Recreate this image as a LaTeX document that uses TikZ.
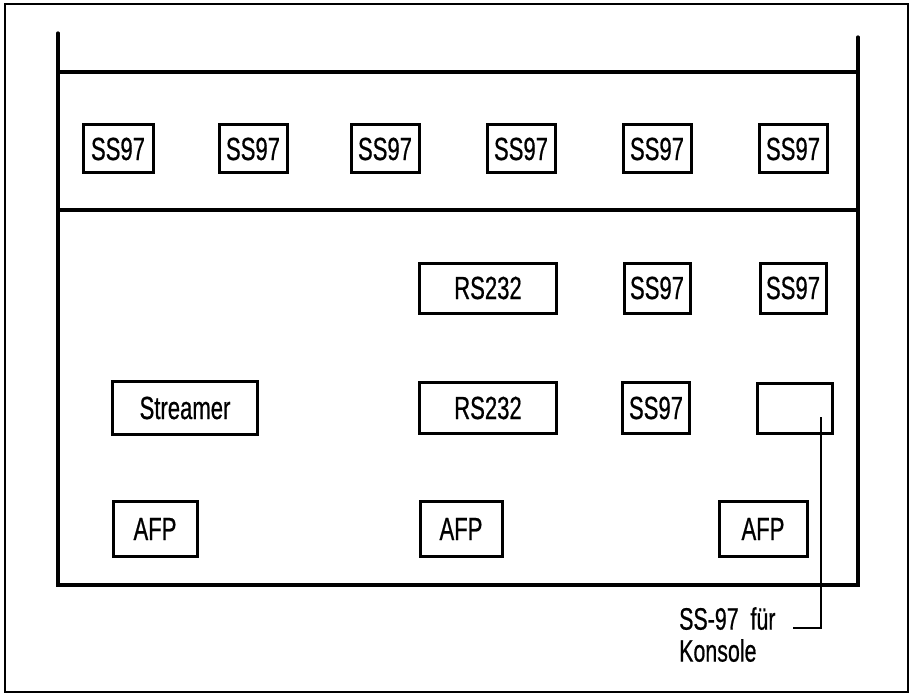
\documentclass[tikz,border=0pt]{standalone}
\usepackage{fontspec}
\setmainfont{Liberation Sans}[FakeStretch=0.69,FakeBold=0.6]
\begin{document}
\begin{tikzpicture}[
  x=1pt,y=-1pt,
  frame/.style={line width=1.3pt},
  rack/.style={line width=3.2pt,line cap=round},
  card/.style={draw,line width=3pt,inner sep=0pt,minimum height=48pt,
    font=\fontsize{32}{38}\selectfont},
  lead/.style={line width=1.3pt}]
  \useasboundingbox (0,0) rectangle (913,695);
  \draw[frame] (5,4) rectangle (908,692);
  \draw[rack] (58,33) -- (58,585) -- (858,585) -- (858,37);
  \draw[rack] (58,72) -- (858,72) (58,210) -- (858,210);
  \node[card,minimum width=70pt] (t1) at (118,149) {SS97};
  \node[card,minimum width=68pt] (t2) at (253,149) {SS97};
  \node[card,minimum width=68pt] (t3) at (385,149) {SS97};
  \node[card,minimum width=68pt] (t4) at (521,149) {SS97};
  \node[card,minimum width=68pt] (t5) at (657,149) {SS97};
  \node[card,minimum width=68pt] (t6) at (793,149) {SS97};
  \node[card,minimum width=137pt,minimum height=50pt] (rs1) at (488,288) {RS232};
  \node[card,minimum width=66pt,minimum height=50pt] (s1) at (657,288) {SS97};
  \node[card,minimum width=66pt,minimum height=50pt] (s2) at (793,288) {SS97};
  \node[card,minimum width=145pt,minimum height=53pt] (str) at (185,408) {Streamer};
  \node[card,minimum width=137pt,minimum height=51pt] (rs2) at (488,408) {RS232};
  \node[card,minimum width=67pt,minimum height=51pt] (s3) at (656,408) {SS97};
  \node[card,minimum width=75pt,minimum height=50pt] (kon) at (795,408) {};
  \node[card,minimum width=84pt,minimum height=55pt] (afp1) at (155,529) {AFP};
  \node[card,minimum width=82pt,minimum height=55pt] (afp2) at (461,529) {AFP};
  \node[card,minimum width=88pt,minimum height=55pt] (afp3) at (763,529) {AFP};
  \coordinate (tap) at (821,417);
  \coordinate (hook) at (793,628);
  \draw[lead] (tap) |- (hook);
  \node[anchor=north west,inner sep=0pt,align=left,
    font=\fontsize{31}{32}\selectfont] (note) at (679,607) {SS-97\ \ für\\Konsole};
\end{tikzpicture}
\end{document}
